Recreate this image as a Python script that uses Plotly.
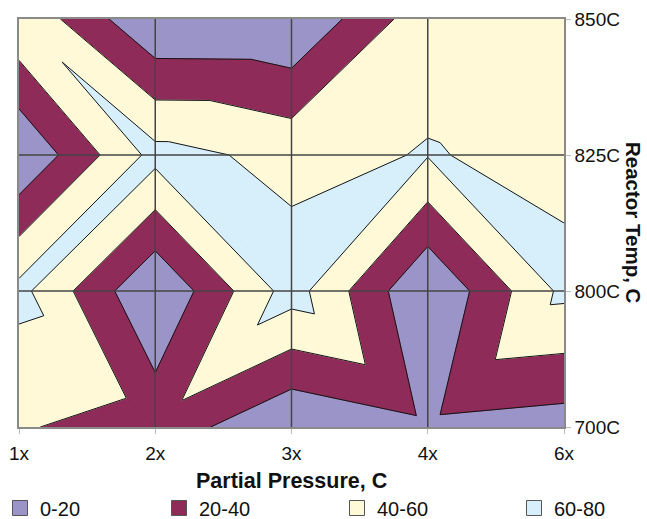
import plotly.graph_objects as go

x_labels = ["1x", "2x", "3x", "4x", "6x"]
y_labels = ["700C", "800C", "825C", "850C"]
band_names = ["0-20", "20-40", "40-60", "60-80"]
band_limits = [(-1e9, 20), (20, 40), (40, 60), (60, 1e9)]
levels = [20, 40, 60]
band_colors = ["#9A94C8", "#8E2B58", "#FFF9D7", "#D6EFFA"]

# rows follow y_labels (700C at bottom), columns follow x_labels
z_700 = [41.3, 33, 1, 15.5, 10.5]
z_800 = [66, 0.5, 69, 0, 65]
z_825 = [1, 66.5, 54.5, 61, 55]
z_850 = [57, 1, 0.4, 53, 50]
z = [z_700, z_800, z_825, z_850]

xs = list(range(len(x_labels)))
ys = list(range(len(y_labels)))


# ---- surface-contour style: each grid cell split in two triangles along the
# diagonal that joins the larger pair of corner values, linear inside ----
def triangles():
    tris = []
    for j in range(len(ys) - 1):
        for i in range(len(xs) - 1):
            bl = (xs[i], ys[j], z[j][i])
            br = (xs[i + 1], ys[j], z[j][i + 1])
            tl = (xs[i], ys[j + 1], z[j + 1][i])
            tr = (xs[i + 1], ys[j + 1], z[j + 1][i + 1])
            if tl[2] + br[2] >= tr[2] + bl[2]:
                tris.append([tl, tr, br])
                tris.append([tl, br, bl])
            else:
                tris.append([tl, tr, bl])
                tris.append([tr, br, bl])
    return tris


def lerp(a, b, level):
    t = (level - a[2]) / (b[2] - a[2])
    return (a[0] + (b[0] - a[0]) * t, a[1] + (b[1] - a[1]) * t, level)


def clip(poly, level, keep_above):
    out = []
    n = len(poly)
    for k in range(n):
        a = poly[k]
        b = poly[(k + 1) % n]
        ina = a[2] >= level if keep_above else a[2] <= level
        inb = b[2] >= level if keep_above else b[2] <= level
        if ina:
            out.append(a)
        if ina != inb:
            out.append(lerp(a, b, level))
    return out


tris = triangles()

fig = go.Figure()

for (lo, hi), c in zip(band_limits, band_colors):
    px, py = [], []
    for tri in tris:
        poly = clip(tri, lo, True)
        if len(poly) >= 3:
            poly = clip(poly, hi, False)
        if len(poly) >= 3:
            px += [p[0] for p in poly] + [poly[0][0], None]
            py += [p[1] for p in poly] + [poly[0][1], None]
    fig.add_trace(go.Scatter(
        x=px, y=py, mode="lines", fill="toself", fillcolor=c,
        line=dict(color=c, width=0.8), hoverinfo="skip", showlegend=False,
    ))

lx, ly = [], []
for tri in tris:
    for lev in levels:
        pts = []
        for k in range(3):
            a = tri[k]
            b = tri[(k + 1) % 3]
            if (a[2] - lev) * (b[2] - lev) < 0:
                pts.append(lerp(a, b, lev))
        if len(pts) == 2:
            lx += [pts[0][0], pts[1][0], None]
            ly += [pts[0][1], pts[1][1], None]
fig.add_trace(go.Scatter(
    x=lx, y=ly, mode="lines", line=dict(color="#151515", width=1),
    hoverinfo="skip", showlegend=False,
))

# legend: one legend per band, spread along the bottom
legend_left_px = [-4, 159, 337, 514]
legend_names = ["legend", "legend2", "legend3", "legend4"]
for name, c, lg in zip(band_names, band_colors, legend_names):
    fig.add_trace(go.Scatter(
        x=[None], y=[None], mode="markers", name=name, legend=lg,
        marker=dict(symbol="square", size=15, color=c,
                    line=dict(color="#555555", width=1)),
    ))

font_family = "Liberation Sans, Arial, sans-serif"
legend_common = dict(orientation="h", xref="container", yref="container",
                     xanchor="left", yanchor="middle", y=1 - 508 / 519,
                     font=dict(size=20), bgcolor="rgba(0,0,0,0)",
                     borderwidth=0)
legend_layout = {}
for lg, pxl in zip(legend_names, legend_left_px):
    legend_layout[lg] = dict(legend_common, x=pxl / 647)

grid_shapes = []
for xv in xs[1:-1]:
    grid_shapes.append(dict(type="line", xref="x", yref="paper", x0=xv, x1=xv,
                            y0=0, y1=1, layer="above",
                            line=dict(color="#444444", width=1.5)))
for yv in ys[1:-1]:
    grid_shapes.append(dict(type="line", xref="paper", yref="y", x0=0, x1=1,
                            y0=yv, y1=yv, layer="above",
                            line=dict(color="#444444", width=1.5)))

fig.update_layout(
    width=647, height=519,
    margin=dict(l=19, r=83, t=19, b=92),
    paper_bgcolor="white", plot_bgcolor="white",
    font=dict(family=font_family, size=19, color="#111111"),
    showlegend=True,
    shapes=grid_shapes,
    xaxis=dict(
        tickmode="array", tickvals=xs, ticktext=x_labels,
        range=[0, len(xs) - 1], automargin=False,
        showgrid=False,
        showline=True, linecolor="#8a8a8a", linewidth=1.5, mirror=True,
        ticks="outside", ticklen=5, tickcolor="#bbbbbb",
        ticklabelstandoff=3, zeroline=False, layer="above traces",
        tickfont=dict(size=19),
    ),
    yaxis=dict(
        tickmode="array", tickvals=ys, ticktext=y_labels, side="right",
        range=[0, len(ys) - 1], automargin=False,
        showgrid=False,
        showline=True, linecolor="#8a8a8a", linewidth=1.5, mirror=True,
        ticks="outside", ticklen=5, tickcolor="#bbbbbb",
        ticklabelstandoff=0,
        zeroline=False, layer="above traces",
        tickfont=dict(size=19),
    ),
    annotations=[
        dict(
            text="<b>Reactor Temp, C</b>", textangle=90,
            xref="paper", yref="paper", x=(634 - 19) / 545, y=0.5,
            xanchor="center", yanchor="middle", showarrow=False,
            font=dict(size=20.5),
        ),
        dict(
            text="<b>Partial Pressure, C</b>",
            xref="paper", yref="paper", x=0.5, y=-(481 - 427) / 408,
            xanchor="center", yanchor="middle", showarrow=False,
            font=dict(size=21.5),
        ),
    ],
    **legend_layout,
)

fig.write_html("out.html")
